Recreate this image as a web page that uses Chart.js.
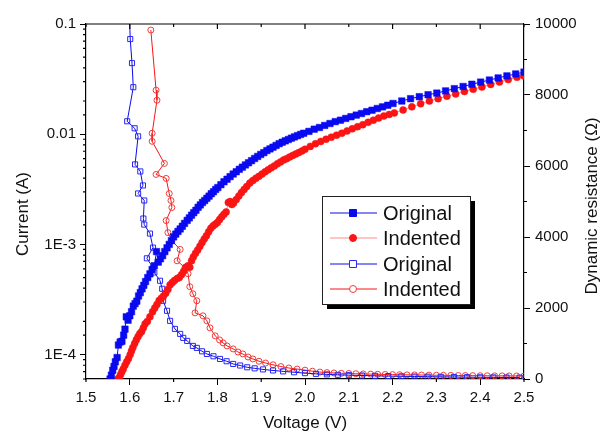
<!DOCTYPE html>
<html>
<head>
<meta charset="utf-8">
<script src="https://cdn.jsdelivr.net/npm/chart.js@4/dist/chart.umd.min.js"></script>
<style>
  html, body { margin: 0; padding: 0; background: #fff; }
  #wrap { width: 603px; height: 434px; position: relative; }
</style>
</head>
<body>
<div id="wrap"><canvas id="ivChart"></canvas></div>
<script>
// current (left axis, log) - filled markers
var voltOrigI = [1.555,1.558,1.561,1.564,1.567,1.571,1.574,1.578,1.582,1.586,1.589,1.592,1.596,1.600,1.604,1.608,1.612,1.616,1.620,1.624,1.628,1.632,1.636,1.641,1.646,1.651,1.656,1.661,1.665,1.670,1.675,1.680,1.685,1.690,1.695,
  1.700,1.705,1.710,1.715,1.720,1.725,1.731,1.736,1.741,1.746,1.751,1.756,1.761,1.766,1.771,1.776,1.781,1.786,1.791,1.796,1.801,
  1.808,1.815,1.822,1.829,1.836,1.843,1.850,1.857,1.864,1.871,1.878,1.885,1.892,1.899,1.906,1.913,1.920,1.927,1.934,1.941,1.948,1.955,1.962,1.969,1.976,1.983,1.990,1.997,
  2.009,2.021,2.033,2.045,2.057,2.069,2.081,2.093,2.105,2.117,2.129,2.141,2.153,2.165,2.177,2.189,2.201,
  2.221,2.241,2.261,2.281,2.301,2.321,2.341,2.361,2.381,2.401,2.421,2.441,2.461,2.481,2.500];
var curOrig = [6.0e-5,6.5e-5,7.2e-5,7.8e-5,8.6e-5,9.4e-5,1.22e-4,1.3e-4,1.32e-4,1.5e-4,1.7e-4,2.2e-4,2.05e-4,2.25e-4,2.45e-4,2.75e-4,2.9e-4,3.05e-4,3.4e-4,3.65e-4,3.95e-4,4.25e-4,4.6e-4,5.0e-4,5.4e-4,5.9e-4,6.4e-4,8.6e-4,6.9e-4,7.4e-4,7.9e-4,8.6e-4,9.3e-4,1.0e-3,1.08e-3,
  1.17e-3,1.24e-3,1.31e-3,1.38e-3,1.46e-3,1.55e-3,1.65e-3,1.74e-3,1.84e-3,1.94e-3,2.04e-3,2.17e-3,2.28e-3,2.40e-3,2.50e-3,2.62e-3,2.74e-3,2.88e-3,3.0e-3,3.15e-3,3.28e-3,
  3.48e-3,3.7e-3,3.9e-3,4.12e-3,4.35e-3,4.56e-3,4.8e-3,5.02e-3,5.26e-3,5.5e-3,5.75e-3,6.02e-3,6.28e-3,6.55e-3,6.8e-3,7.1e-3,7.35e-3,7.62e-3,7.9e-3,8.2e-3,8.45e-3,8.7e-3,8.95e-3,9.2e-3,9.45e-3,9.7e-3,9.95e-3,0.0102,
  0.0106,0.0111,0.0115,0.0120,0.0125,0.0130,0.0134,0.0139,0.0144,0.0149,0.0154,0.0160,0.0165,0.0171,0.0177,0.0183,0.0190,
  0.0200,0.0210,0.0219,0.0228,0.0236,0.0247,0.0259,0.0271,0.0284,0.0297,0.0310,0.0324,0.0338,0.0352,0.0366];

var voltIndI = [1.573,1.576,1.579,1.582,1.585,1.589,1.593,1.597,1.601,1.604,1.607,1.611,1.615,1.619,1.623,1.627,1.631,1.635,1.640,1.646,1.652,1.657,1.662,1.667,1.672,1.677,1.682,1.687,1.692,1.697,1.702,1.708,1.713,1.718,1.723,1.728,1.733,1.737,1.741,1.745,1.750,1.755,1.760,1.765,1.770,1.775,1.780,1.785,1.790,1.795,1.800,1.805,1.810,1.815,1.820,1.825,1.829,1.833,1.837,1.843,1.849,1.855,1.861,1.867,1.874,1.881,1.888,1.895,1.902,1.909,1.916,1.923,1.930,1.937,1.944,1.951,1.958,1.965,1.972,1.979,1.986,1.993,2.000,
  2.012,2.024,2.036,2.048,2.060,2.072,2.084,2.096,2.108,2.120,2.132,2.144,2.156,2.168,2.180,2.192,2.204,
  2.224,2.244,2.264,2.284,2.304,2.324,2.344,2.364,2.384,2.404,2.424,2.444,2.464,2.484,2.500];
var curInd = [6.0e-5,6.2e-5,6.6e-5,7.0e-5,7.4e-5,8.0e-5,8.6e-5,9.2e-5,1.0e-4,1.08e-4,1.16e-4,1.26e-4,1.36e-4,1.46e-4,1.55e-4,1.62e-4,1.75e-4,1.9e-4,2.0e-4,2.2e-4,2.45e-4,2.65e-4,2.85e-4,3.1e-4,3.25e-4,3.4e-4,3.6e-4,3.9e-4,4.3e-4,4.5e-4,4.7e-4,4.9e-4,5.0e-4,5.3e-4,5.7e-4,6.2e-4,6.4e-4,6.2e-4,7.1e-4,7.7e-4,8.3e-4,8.9e-4,9.6e-4,1.04e-3,1.12e-3,1.2e-3,1.3e-3,1.4e-3,1.47e-3,1.52e-3,1.58e-3,1.68e-3,1.78e-3,1.88e-3,1.97e-3,2.4e-3,2.45e-3,2.3e-3,2.38e-3,2.55e-3,2.75e-3,2.95e-3,3.15e-3,3.35e-3,3.6e-3,3.8e-3,3.98e-3,4.15e-3,4.35e-3,4.55e-3,4.75e-3,4.95e-3,5.15e-3,5.38e-3,5.6e-3,5.82e-3,6.0e-3,6.2e-3,6.42e-3,6.62e-3,6.82e-3,7.05e-3,7.3e-3,
  7.75e-3,8.2e-3,8.6e-3,9.0e-3,9.4e-3,9.8e-3,0.0102,0.0107,0.0112,0.0117,0.0122,0.0128,0.0134,0.0140,0.0146,0.0151,0.0156,
  0.0166,0.0177,0.0189,0.0200,0.0210,0.0221,0.0232,0.0244,0.0256,0.0268,0.0283,0.0298,0.0313,0.0328,0.0337];

// dynamic resistance (right axis) - open markers
var voltOrigR = [1.598,1.601,1.605,1.608,1.594,1.611,1.619,1.612,1.624,1.630,1.619,1.633,1.631,1.633,1.646,1.653,1.639,1.653,1.656,1.669,1.674,1.676,1.685,1.692,1.703,1.715,1.722,1.731,1.744,1.753,1.765,1.776,1.791,1.806,1.821,1.836,1.852,1.868,1.885,1.904,1.927,1.950,1.975,2.000,2.025,2.050,2.075,2.100,2.130,2.160,2.190,2.220,2.250,2.280,2.310,2.340,2.370,2.400,2.430,2.460,2.490];
var resOrig = [10600,9576,8898,8220,7260,7062,6836,6045,5847,5452,5226,5028,4520,4350,4096,3701,3400,3136,3000,2768,2542,2203,1921,1638,1412,1271,1158,1073,932,876,780,706,640,565,500,424,380,330,300,270,240,215,190,165,145,130,118,108,98,90,82,76,70,65,60,56,52,48,45,42,40];

var voltIndR = [1.648,1.660,1.662,1.651,1.651,1.679,1.660,1.683,1.690,1.694,1.696,1.683,1.687,1.696,1.715,1.708,1.726,1.733,1.737,1.744,1.753,1.749,1.767,1.776,1.783,1.795,1.805,1.813,1.822,1.836,1.847,1.858,1.870,1.881,1.895,1.910,1.927,1.945,1.963,1.982,2.000,2.017,2.034,2.050,2.066,2.083,2.100,2.116,2.133,2.150,2.166,2.183,2.200,2.216,2.233,2.250,2.266,2.283,2.300,2.316,2.333,2.350,2.366,2.383,2.400,2.416,2.433,2.450,2.466,2.483,2.500];
var resInd = [9830,8136,7853,6921,6695,6073,5763,5650,5226,5028,4831,4463,4124,3898,3650,3330,3136,2966,2600,2401,2203,1864,1780,1638,1441,1215,1100,1017,932,847,760,706,620,565,500,450,400,350,310,280,250,220,195,180,170,160,155,148,142,137,133,128,124,120,117,114,111,108,106,104,101,99,97,95,93,91,89,88,86,85,84];

var seriesLabels = ['Original', 'Indented', 'Original', 'Indented'];
var leftTickValues = [0.1, 0.01, 1e-3, 1e-4];
var leftTickLabels = ['0.1', '0.01', '1E-3', '1E-4'];

var FONT = "'Liberation Sans', Arial, sans-serif";
var BLUE = 'rgb(10,10,240)';
var RED = 'rgb(250,20,20)';

function pts(xs, ys) {
  return xs.map(function (v, i) { return { x: v, y: ys[i] }; });
}

function isMajorX(v) { return Math.round(v * 10) % 2 === 0; }
function isMajorL(v) { var l = Math.log10(v); return Math.abs(l - Math.round(l)) < 1e-6; }
function isMajorR(v) { return Math.round(v) % 2000 === 0; }

// minor ticks, top border ticks, y titles, legend box
var decorPlugin = {
  id: 'decor',
  afterDraw: function (chart) {
    var ctx = chart.ctx, a = chart.chartArea;
    var sx = chart.scales.x, sl = chart.scales.y, sr = chart.scales.y2;
    ctx.save();
    ctx.strokeStyle = '#000';
    ctx.lineWidth = 1.2;
    // top border
    ctx.beginPath();
    ctx.moveTo(a.left, a.top); ctx.lineTo(a.right, a.top);
    ctx.stroke();
    ctx.beginPath();
    sx.ticks.forEach(function (t) {
      var px = sx.getPixelForValue(t.value);
      var len = isMajorX(t.value) ? 5 : 3;
      ctx.moveTo(px, a.top); ctx.lineTo(px, a.top + len);
      if (!isMajorX(t.value)) { ctx.moveTo(px, a.bottom); ctx.lineTo(px, a.bottom + 3); }
    });
    sl.ticks.forEach(function (t) {
      if (isMajorL(t.value)) return;
      var py = sl.getPixelForValue(t.value);
      ctx.moveTo(a.left, py); ctx.lineTo(a.left - 3, py);
    });
    sr.ticks.forEach(function (t) {
      if (isMajorR(t.value)) return;
      var py = sr.getPixelForValue(t.value);
      ctx.moveTo(a.right, py); ctx.lineTo(a.right + 3, py);
    });
    ctx.stroke();

    // y axis titles
    ctx.fillStyle = '#111';
    ctx.font = '17px ' + FONT;
    ctx.textAlign = 'center';
    ctx.textBaseline = 'middle';
    ctx.save();
    ctx.translate(23, 214); ctx.rotate(-Math.PI / 2);
    ctx.fillText('Current (A)', 0, 0);
    ctx.restore();
    ctx.save();
    ctx.translate(592, 206); ctx.rotate(-Math.PI / 2);
    ctx.fillText('Dynamic resistance (\u03A9)', 0, 0);
    ctx.restore();

    // legend
    var bx = 322, by = 196, bw = 148, bh = 108;
    ctx.fillStyle = '#000';
    ctx.fillRect(bx + 5, by + 5, bw, bh);
    ctx.fillStyle = '#fff';
    ctx.fillRect(bx, by, bw, bh);
    ctx.strokeStyle = '#222';
    ctx.lineWidth = 1;
    ctx.strokeRect(bx + 0.5, by + 0.5, bw, bh);
    var rows = [213, 238, 264, 289];
    ctx.font = '20px ' + FONT;
    ctx.textAlign = 'left';
    chart.data.datasets.forEach(function (ds, i) {
      var y = rows[i];
      ctx.strokeStyle = ds.borderColor;
      ctx.lineWidth = 1;
      ctx.beginPath(); ctx.moveTo(330, y); ctx.lineTo(377, y); ctx.stroke();
      ctx.fillStyle = ds.pointBackgroundColor === 'rgba(255,255,255,0)' ? '#fff' : ds.pointBackgroundColor;
      ctx.strokeStyle = ds.pointBorderColor;
      ctx.beginPath();
      if (ds.pointStyle === 'rect') ctx.rect(349.5, y - 3.5, 7, 7);
      else ctx.arc(353, y, 3.5, 0, Math.PI * 2);
      ctx.fill(); ctx.stroke();
      ctx.fillStyle = '#111';
      ctx.fillText(seriesLabels[i], 383, y + 1);
    });
    ctx.restore();
  }
};

var tickFont = { family: FONT, size: 15 };

var ctx = document.getElementById('ivChart').getContext('2d');
var chart = new Chart(ctx, {
  type: 'scatter',
  data: {
    datasets: [{
      label: seriesLabels[0],
      data: pts(voltOrigI, curOrig),
      yAxisID: 'y',
      showLine: true,
      borderColor: BLUE,
      borderWidth: 1,
      pointStyle: 'rect',
      pointRadius: 4.6,
      pointBackgroundColor: BLUE,
      pointBorderColor: BLUE,
      pointBorderWidth: 0.5
    }, {
      label: seriesLabels[1],
      data: pts(voltIndI, curInd),
      yAxisID: 'y',
      showLine: true,
      borderColor: 'rgb(255,140,140)',
      borderWidth: 1,
      pointStyle: 'circle',
      pointRadius: 3.5,
      pointBackgroundColor: RED,
      pointBorderColor: RED,
      pointBorderWidth: 0.5
    }, {
      label: seriesLabels[2],
      data: pts(voltOrigR, resOrig),
      yAxisID: 'y2',
      showLine: true,
      borderColor: BLUE,
      borderWidth: 1,
      pointStyle: 'rect',
      pointRadius: 3.6,
      pointBackgroundColor: 'rgba(255,255,255,0)',
      pointBorderColor: 'rgb(40,40,240)',
      pointBorderWidth: 1
    }, {
      label: seriesLabels[3],
      data: pts(voltIndR, resInd),
      yAxisID: 'y2',
      showLine: true,
      borderColor: RED,
      borderWidth: 1,
      pointStyle: 'circle',
      pointRadius: 3,
      pointBackgroundColor: 'rgba(255,255,255,0)',
      pointBorderColor: 'rgb(240,60,60)',
      pointBorderWidth: 1
    }]
  },
  options: {
    responsive: true,
    maintainAspectRatio: false,
    animation: false,
    layout: { padding: { top: 24, left: 0, right: 0, bottom: 0 } },
    plugins: {
      legend: { display: false },
      tooltip: { enabled: false }
    },
    scales: {
      x: {
        type: 'linear',
        min: 1.5,
        max: 2.5,
        afterFit: function (s) { s.height = 55; },
        border: { display: true, color: '#000', width: 1.2 },
        grid: {
          drawOnChartArea: false,
          tickLength: 6,
          tickColor: function (c) { return isMajorX(c.tick.value) ? '#000' : 'rgba(0,0,0,0)'; }
        },
        ticks: {
          stepSize: 0.1,
          padding: 4,
          color: '#111',
          font: tickFont,
          maxRotation: 0,
          callback: function (v) { return Number(v).toFixed(1); }
        },
        title: {
          display: true,
          text: 'Voltage (V)',
          color: '#111',
          font: { family: FONT, size: 17 },
          padding: { top: 0, bottom: 0 }
        }
      },
      y: {
        type: 'logarithmic',
        position: 'left',
        min: 6e-5,
        max: 0.1,
        afterFit: function (s) { s.width = 86; },
        border: { display: true, color: '#000', width: 1.2 },
        grid: {
          drawOnChartArea: false,
          tickLength: 6,
          tickColor: function (c) { return isMajorL(c.tick.value) ? '#000' : 'rgba(0,0,0,0)'; }
        },
        ticks: {
          padding: 4,
          color: '#111',
          font: tickFont,
          autoSkip: false,
          callback: function (v) {
            for (var i = 0; i < leftTickValues.length; i++) {
              if (Math.abs(Math.log10(v) - Math.log10(leftTickValues[i])) < 1e-6) return leftTickLabels[i];
            }
            return '';
          }
        }
      },
      y2: {
        type: 'linear',
        position: 'right',
        min: 0,
        max: 10000,
        afterFit: function (s) { s.width = 79; },
        border: { display: true, color: '#000', width: 1.2 },
        grid: {
          drawOnChartArea: false,
          tickLength: 6,
          tickColor: function (c) { return isMajorR(c.tick.value) ? '#000' : 'rgba(0,0,0,0)'; }
        },
        ticks: {
          stepSize: 1000,
          padding: 5,
          color: '#111',
          font: tickFont,
          autoSkip: false,
          callback: function (v) { return isMajorR(v) ? String(v) : ''; }
        }
      }
    }
  },
  plugins: [decorPlugin]
});
</script>
</body>
</html>
